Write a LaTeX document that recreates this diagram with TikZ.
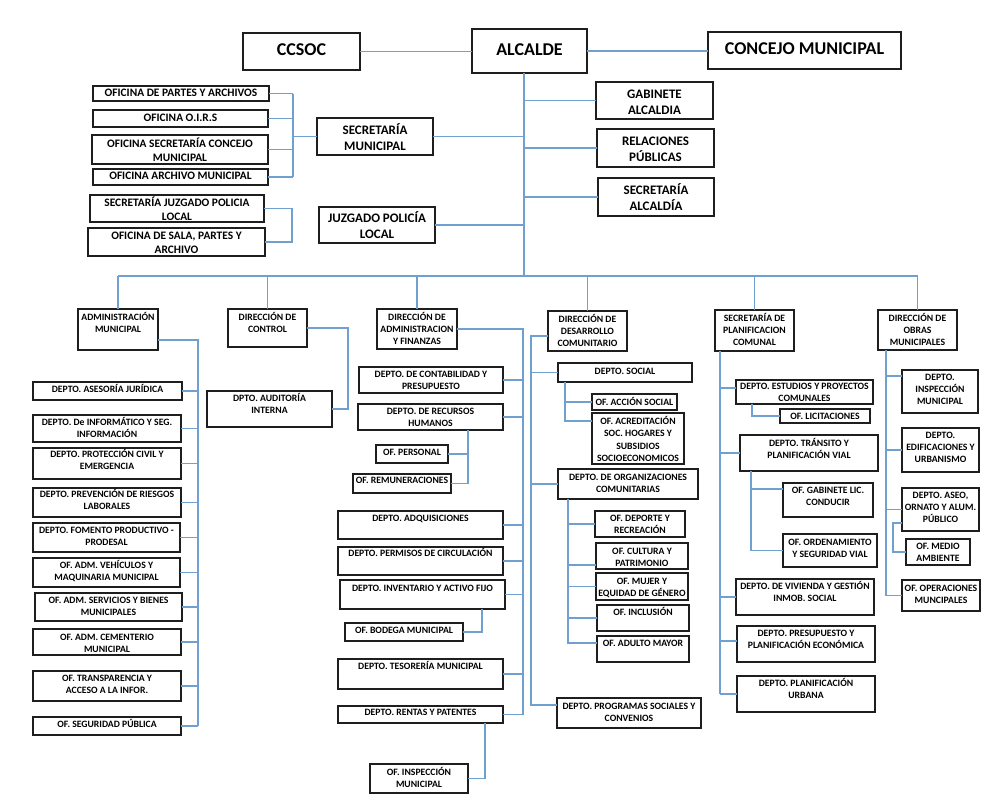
\documentclass[tikz,border=0pt]{standalone}
\usepackage{fontspec}
\setmainfont{Carlito}
\usetikzlibrary{calc}
\definecolor{cl}{RGB}{112,160,208}
\definecolor{bd}{RGB}{30,30,30}
\tikzset{
 box/.style={draw=bd, line width=1.5pt, inner sep=0pt, outer sep=0pt},
 txt/.style={inner sep=0pt, align=center, font=\bfseries\fontsize{9.7}{12.2}\selectfont},
 conn/.style={draw=cl, line width=1.1pt},
 big/.style={font=\bfseries\fontsize{18}{22}\selectfont},
 mid/.style={font=\bfseries\fontsize{13}{16}\selectfont},
 off/.style={font=\bfseries\fontsize{11.4}{14}\selectfont},
}
\newcommand\bx[7][]{%
  \node[box, minimum width={#5-#3}, minimum height={#6-#4}, anchor=north west] (#2) at (#3,#4) {};
  \node[txt,#1] at (#2.center) {\strut#7};}
\newcommand\bxt[7][1.5]{%
  \node[box, minimum width={#5-#3}, minimum height={#6-#4}, anchor=north west] (#2) at (#3,#4) {};
  \node[txt,anchor=north] at ([yshift=-#1pt]#2.north) {\strut#7};}
\begin{document}
\begin{tikzpicture}[x=1pt,y=-1pt]
\fill[white] (0,0) rectangle (993,807);
\useasboundingbox (0,0) rectangle (993,807);

% top level
\bx[big]{ccsoc}{243}{33}{360}{70}{CCSOC}
\bx[big]{alc}{472}{29}{587}{73}{ALCALDE}
\bx[big]{con}{708}{32}{901}{69}{CONCEJO MUNICIPAL}
\bx[mid]{gab}{596}{82}{713}{119}{GABINETE\\ALCALDIA}
\bx[mid]{rel}{597}{129}{714}{167}{RELACIONES\\PÚBLICAS}
\bx[mid]{sal}{598}{178}{714}{216}{SECRETARÍA\\ALCALDÍA}
\bx[mid]{smu}{317}{118}{433}{155}{SECRETARÍA\\MUNICIPAL}
\bx[mid]{jpl}{319}{207}{435}{243}{JUZGADO POLICÍA\\LOCAL}

\bx[off]{opa}{93}{86}{269}{101}{OFICINA DE PARTES Y ARCHIVOS}
\bx[off]{oir}{93}{110}{268}{127}{OFICINA O.I.R.S}
\bx[off]{osc}{92}{135}{268}{164}{OFICINA SECRETARÍA CONCEJO\\MUNICIPAL}
\bx[off]{oam}{93}{169}{268}{185}{OFICINA ARCHIVO MUNICIPAL}
\bx[off]{sjp}{90}{195}{264}{222}{SECRETARÍA JUZGADO POLICIA\\LOCAL}
\bx[off]{osp}{88}{228}{265}{256}{OFICINA DE SALA, PARTES Y\\ARCHIVO}

% level 2
\bxt[2.5]{adm}{78}{309}{158}{350}{ADMINISTRACIÓN\\MUNICIPAL}
\bxt[2.5]{ctl}{228}{309}{307}{347}{DIRECCIÓN DE\\CONTROL}
\bxt[2.5]{daf}{377}{309}{457}{349}{DIRECCIÓN DE\\ADMINISTRACION\\Y FINANZAS}
\bxt[2.5]{ddc}{548}{311}{627}{351}{DIRECCIÓN DE\\DESARROLLO\\COMUNITARIO}
\bxt[2.5]{spc}{715}{310}{794}{351}{SECRETARÍA DE\\PLANIFICACION\\COMUNAL}
\bxt[2.5]{dom}{878}{310}{957}{350}{DIRECCIÓN DE\\OBRAS\\MUNICIPALES}

% column 1
\bxt{c1a}{33}{382}{182}{400}{DEPTO. ASESORÍA JURÍDICA}
\bxt{c1b}{33}{415}{181}{442}{DEPTO. De INFORMÁTICO Y SEG.\\INFORMACIÓN}
\bxt[0.5]{c1c}{33}{448}{181}{479}{DEPTO. PROTECCIÓN CIVIL Y\\EMERGENCIA}
\bxt[0.5]{c1d}{33}{488}{181}{517}{DEPTO. PREVENCIÓN DE RIESGOS\\LABORALES}
\bxt{c1e}{33}{523}{180}{552}{DEPTO. FOMENTO PRODUCTIVO -\\PRODESAL}
\bxt{c1f}{33}{558}{180}{587}{OF. ADM. VEHÍCULOS Y\\MAQUINARIA MUNICIPAL}
\bxt{c1g}{35}{593}{182}{621}{OF. ADM. SERVICIOS Y BIENES\\MUNICIPALES}
\bxt[2.5]{c1h}{33}{629}{181}{655}{OF. ADM. CEMENTERIO\\MUNICIPAL}
\bxt{c1i}{33}{671}{181}{701}{OF. TRANSPARENCIA Y\\ACCESO A LA INFOR.}
\bxt{c1j}{33}{717}{181}{735}{OF. SEGURIDAD PÚBLICA}

% column 2
\bxt{aud}{207}{391}{332}{427}{DPTO. AUDITORÍA\\INTERNA}

% column 3
\bxt{cont}{359}{367}{503}{393}{DEPTO. DE CONTABILIDAD Y\\PRESUPUESTO}
\bxt{rrhh}{358}{404}{503}{430}{DEPTO. DE RECURSOS\\HUMANOS}
\bxt{pers}{376}{445}{448}{463}{OF. PERSONAL}
\bxt[0.5]{rem}{353}{474}{451}{493}{OF. REMUNERACIONES}
\bxt{adq}{338}{511}{503}{539}{DEPTO. ADQUISICIONES}
\bxt[0.5]{perm}{338}{547}{503}{575}{DEPTO. PERMISOS DE CIRCULACIÓN}
\bxt[2.5]{inv}{340}{580}{505}{609}{DEPTO. INVENTARIO Y ACTIVO FIJO}
\bxt{bod}{345}{623}{463}{641}{OF. BODEGA MUNICIPAL}
\bxt{tes}{338}{659}{503}{689}{DEPTO. TESORERÍA MUNICIPAL}
\bxt[0.5]{ren}{338}{706}{503}{723}{DEPTO. RENTAS Y PATENTES}
\bxt[2.5]{oins}{370}{764}{468}{793}{OF. INSPECCIÓN\\MUNICIPAL}

% column 4
\bxt[2.5]{soc}{558}{363}{692}{382}{DEPTO. SOCIAL}
\bxt[2.5]{acc}{592}{394}{677}{410}{OF. ACCIÓN SOCIAL}
\bxt[3]{acr}{592}{413}{684}{464}{OF. ACREDITACIÓN\\SOC. HOGARES Y\\SUBSIDIOS\\SOCIOECONOMICOS}
\bxt[2.5]{org}{558}{469}{698}{499}{DEPTO. DE ORGANIZACIONES\\COMUNITARIAS}
\bxt{dep}{595}{511}{685}{537}{OF. DEPORTE Y\\RECREACIÓN}
\bxt[2.5]{cul}{596}{543}{688}{569}{OF. CULTURA Y\\PATRIMONIO}
\bxt[2.5]{muj}{596}{573}{688}{600}{OF. MUJER Y\\EQUIDAD DE GÉNERO}
\bxt{inc}{597}{605}{689}{631}{OF. INCLUSIÓN}
\bxt{may}{597}{636}{689}{662}{OF. ADULTO MAYOR}
\bxt[2.5]{prog}{557}{698}{701}{728}{DEPTO. PROGRAMAS SOCIALES Y\\CONVENIOS}

% column 5
\bxt[0.5]{est}{736}{380}{873}{404}{DEPTO. ESTUDIOS Y PROYECTOS\\COMUNALES}
\bxt[1.5]{lic}{780}{409}{870}{423}{OF. LICITACIONES}
\bxt[2.5]{tra}{740}{435}{878}{471}{DEPTO. TRÁNSITO Y\\PLANIFICACIÓN VIAL}
\bxt{gbl}{783}{483}{873}{517}{OF. GABINETE LIC.\\CONDUCIR}
\bxt[2.5]{ord}{783}{534}{877}{567}{OF. ORDENAMIENTO\\Y SEGURIDAD VIAL}
\bxt{viv}{736}{579}{874}{615}{DEPTO. DE VIVIENDA Y GESTIÓN\\INMOB. SOCIAL}
\bxt{pre}{737}{626}{875}{662}{DEPTO. PRESUPUESTO Y\\PLANIFICACIÓN ECONÓMICA}
\bxt{urb}{737}{676}{875}{712}{DEPTO. PLANIFICACIÓN\\URBANA}

% column 6
\bxt{ins}{902}{370}{978}{413}{DEPTO.\\INSPECCIÓN\\MUNICIPAL}
\bxt{edi}{902}{428}{979}{472}{DEPTO.\\EDIFICACIONES Y\\URBANISMO}
\bxt{ase}{902}{488}{979}{531}{DEPTO. ASEO,\\ORNATO Y ALUM.\\PÚBLICO}
\bxt{med}{906}{539}{970}{565}{OF. MEDIO\\AMBIENTE}
\bxt[2.5]{ope}{902}{580}{980}{611}{OF. OPERACIONES\\MUNCIPALES}

% ---------- connectors ----------
\coordinate (tk) at (524,276);
\draw[conn] (ccsoc.east) -- (ccsoc.east -| alc.west);
\draw[conn] (alc.east) -- (alc.east -| con.west);
\draw[conn] (alc.south -| tk) -- (tk);
\foreach \n in {gab,rel,sal} \draw[conn] (\n.west) -- (\n.west -| tk);
\foreach \n in {smu,jpl} \draw[conn] (\n.east) -- (\n.east -| tk);
\draw[conn] (adm.north |- tk) -- (dom.north |- tk);
\foreach \n in {adm,ctl,daf,ddc,spc,dom} \draw[conn] (\n.north) -- (\n.north |- tk);

% office brackets
\coordinate (ob) at (293,0);
\foreach \n in {opa,oir,osc,oam} \draw[conn] (\n.east) -- (\n.east -| ob);
\draw[conn] (opa.east -| ob) -- (oam.east -| ob);
\draw[conn] (ob |- smu.west) -- (smu.west);
\coordinate (jb) at (292,0);
\draw[conn] (sjp.east) -- (sjp.east -| jb) -- (osp.east -| jb) -- (osp.east);

% column 1
\coordinate (x1) at (198,0);
\coordinate (a1) at ([yshift=10pt]adm.south east);
\draw[conn] (a1) -- (a1 -| x1) -- (x1 |- c1j.east);
\foreach \n in {c1a,c1b,c1c,c1d,c1e,c1f,c1g,c1h,c1i,c1j} \draw[conn] (\n.east) -- (\n.east -| x1);

% column 2
\coordinate (x2) at (348,0);
\draw[conn] (ctl.east) -- (ctl.east -| x2) -- (x2 |- aud.east) -- (aud.east);

% column 3
\coordinate (x3) at (523,0);
\draw[conn] (daf.east) -- (daf.east -| x3) -- (x3 |- ren.east);
\foreach \n in {cont,rrhh,adq,perm,inv,tes,ren} \draw[conn] (\n.east) -- (\n.east -| x3);
\coordinate (x3a) at (468,0);
\draw[conn] (x3a |- rrhh.south) -- (x3a |- rem.east) -- (rem.east);
\draw[conn] (pers.east) -- (pers.east -| x3a);
\coordinate (x3b) at (482,0);
\draw[conn] (x3b |- inv.south) -- (x3b |- bod.east) -- (bod.east);
\coordinate (x3c) at (485,0);
\draw[conn] (x3c |- ren.south) -- (x3c |- oins.east) -- (oins.east);

% column 4
\coordinate (x4) at (531,0);
\coordinate (a4) at ([yshift=-5pt]ddc.west);
\coordinate (p4) at ([yshift=8pt]prog.west);
\draw[conn] (a4) -- (a4 -| x4) -- (x4 |- p4) -- (p4);
\draw[conn] (soc.west) -- (soc.west -| x4);
\draw[conn] (org.west) -- (org.west -| x4);
\coordinate (x4a) at (565,0);
\coordinate (q4) at ([yshift=-8pt]acr.north west);
\draw[conn] (x4a |- soc.south) -- (x4a |- q4) -- (q4);
\draw[conn] (acc.west) -- (acc.west -| x4a);
\coordinate (x4b) at (568,0);
\coordinate (r4) at ([yshift=-7pt]may.north west);
\coordinate (s4) at ([yshift=-22pt]cul.north west);
\draw[conn] (x4b |- org.south) -- (x4b |- r4) -- (r4);
\draw[conn] (s4) -- (s4 -| x4b);
\foreach \n in {dep,muj,inc} \draw[conn] (\n.west) -- (\n.west -| x4b);

% column 5
\coordinate (x5) at (720,0);
\draw[conn] (x5 |- spc.south) -- (x5 |- urb.west);
\coordinate (e5) at ([yshift=4pt]est.west);
\coordinate (p5) at ([yshift=3pt]pre.west);
\draw[conn] (e5) -- (e5 -| x5);
\draw[conn] (p5) -- (p5 -| x5);
\foreach \n in {tra,viv,urb} \draw[conn] (\n.west) -- (\n.west -| x5);
\coordinate (x5a) at (752,0);
\draw[conn] (x5a |- est.south) -- (x5a |- lic.west) -- (lic.west);
\coordinate (x5b) at (751,0);
\coordinate (g5) at ([yshift=-6pt]gbl.north west);
\draw[conn] (x5b |- tra.south) -- (x5b |- ord.west) -- (ord.west);
\draw[conn] (g5) -- (g5 -| x5b);

% column 6
\coordinate (x6) at (886,0);
\draw[conn] (x6 |- dom.south) -- (x6 |- ope.west);
\coordinate (i6) at ([yshift=-6pt]ins.north west);
\draw[conn] (i6) -- (i6 -| x6);
\foreach \n in {edi,ase,ope} \draw[conn] (\n.west) -- (\n.west -| x6);
\coordinate (x6a) at (893,0);
\coordinate (a6) at ([yshift=8pt]ase.south west);
\draw[conn] (a6) -- (a6 -| x6a) -- (x6a |- med.west) -- (med.west);
\end{tikzpicture}
\end{document}
